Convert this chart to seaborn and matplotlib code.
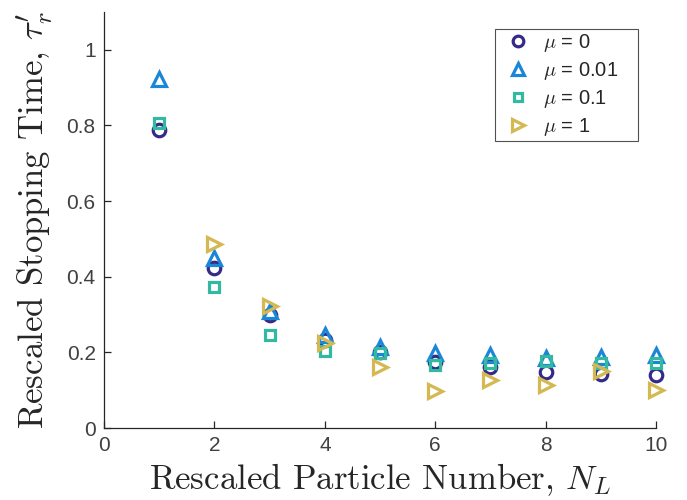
import numpy as np
import pandas as pd
import matplotlib
matplotlib.use("Agg")
import matplotlib.pyplot as plt
import seaborn as sns

N_L = [1, 2, 3, 4, 5, 6, 7, 8, 9, 10]
tau_mu0 = [0.787, 0.423, 0.299, 0.233, 0.200, 0.175, 0.162, 0.148, 0.143, 0.140]
tau_mu001 = [0.923, 0.450, 0.310, 0.246, 0.214, 0.198, 0.193, 0.185, 0.188, 0.193]
tau_mu01 = [0.807, 0.373, 0.246, 0.204, 0.198, 0.167, 0.172, 0.177, 0.172, 0.172]
tau_mu1 = [np.nan, 0.487, 0.323, 0.225, 0.162, 0.098, 0.127, 0.114, 0.150, 0.100]

series_labels = [r"$\mu$ = 0", r"$\mu$ = 0.01", r"$\mu$ = 0.1", r"$\mu$ = 1"]
series_values = [tau_mu0, tau_mu001, tau_mu01, tau_mu1]
colors = ["#352a87", "#1a86d8", "#33b8a1", "#d4b852"]
markers = ["o", "^", "s", ">"]
msizes = [9, 10.5, 7, 10]

x_ticks = [0, 2, 4, 6, 8, 10]
y_ticks = [0, 0.2, 0.4, 0.6, 0.8, 1]
y_ticklabels = ["0", "0.2", "0.4", "0.6", "0.8", "1"]

sns.set_theme(style="white")
plt.rcParams["font.family"] = ["Liberation Sans", "DejaVu Sans"]
plt.rcParams["mathtext.fontset"] = "cm"

fig = plt.figure(figsize=(6.87, 5.0), dpi=100)
ax = fig.add_axes([0.1514, 0.144, 0.8035, 0.832])

for lab, vals, c, m, ms in zip(series_labels, series_values, colors, markers, msizes):
    df = pd.DataFrame({"x": N_L, "y": vals})
    sns.lineplot(data=df, x="x", y="y", ax=ax, marker=m, linestyle="", markersize=ms,
                 markerfacecolor="none", markeredgecolor=c, markeredgewidth=2.3,
                 color=c, label=lab, clip_on=False)

ax.set_xlim(0, 10)
ax.set_ylim(0, 1.1)
ax.set_xticks(x_ticks)
ax.set_xticklabels([str(t) for t in x_ticks])
ax.set_yticks(y_ticks)
ax.set_yticklabels(y_ticklabels)

for s in ["top", "right"]:
    ax.spines[s].set_visible(False)
for s in ["left", "bottom"]:
    ax.spines[s].set_color("#262626")
    ax.spines[s].set_linewidth(0.9)

ax.tick_params(axis="both", which="major", bottom=True, left=True, direction="in",
               length=5, width=0.9, colors="#262626",
               labelsize=15, labelcolor="#404040", pad=6)

ax.set_xlabel(r"Rescaled Particle Number, $N_L$", fontsize=25, family="cmr10",
              color="#262626", labelpad=4)
ax.set_ylabel(r"Rescaled Stopping Time, $\tau_r^{\prime}$", fontsize=25, family="cmr10",
              color="#262626", labelpad=8)

leg = ax.legend(loc="upper left", bbox_to_anchor=(0.708, 0.0, 0.259, 0.959),
                mode="expand", borderaxespad=0, markerscale=0.85,
                fontsize=14.5, frameon=True, fancybox=False, edgecolor="#262626",
                handlelength=2.0, handletextpad=0.25, labelspacing=0.3, borderpad=0.15)
leg.get_frame().set_linewidth(0.8)

fig.savefig("out.png", dpi=100)
